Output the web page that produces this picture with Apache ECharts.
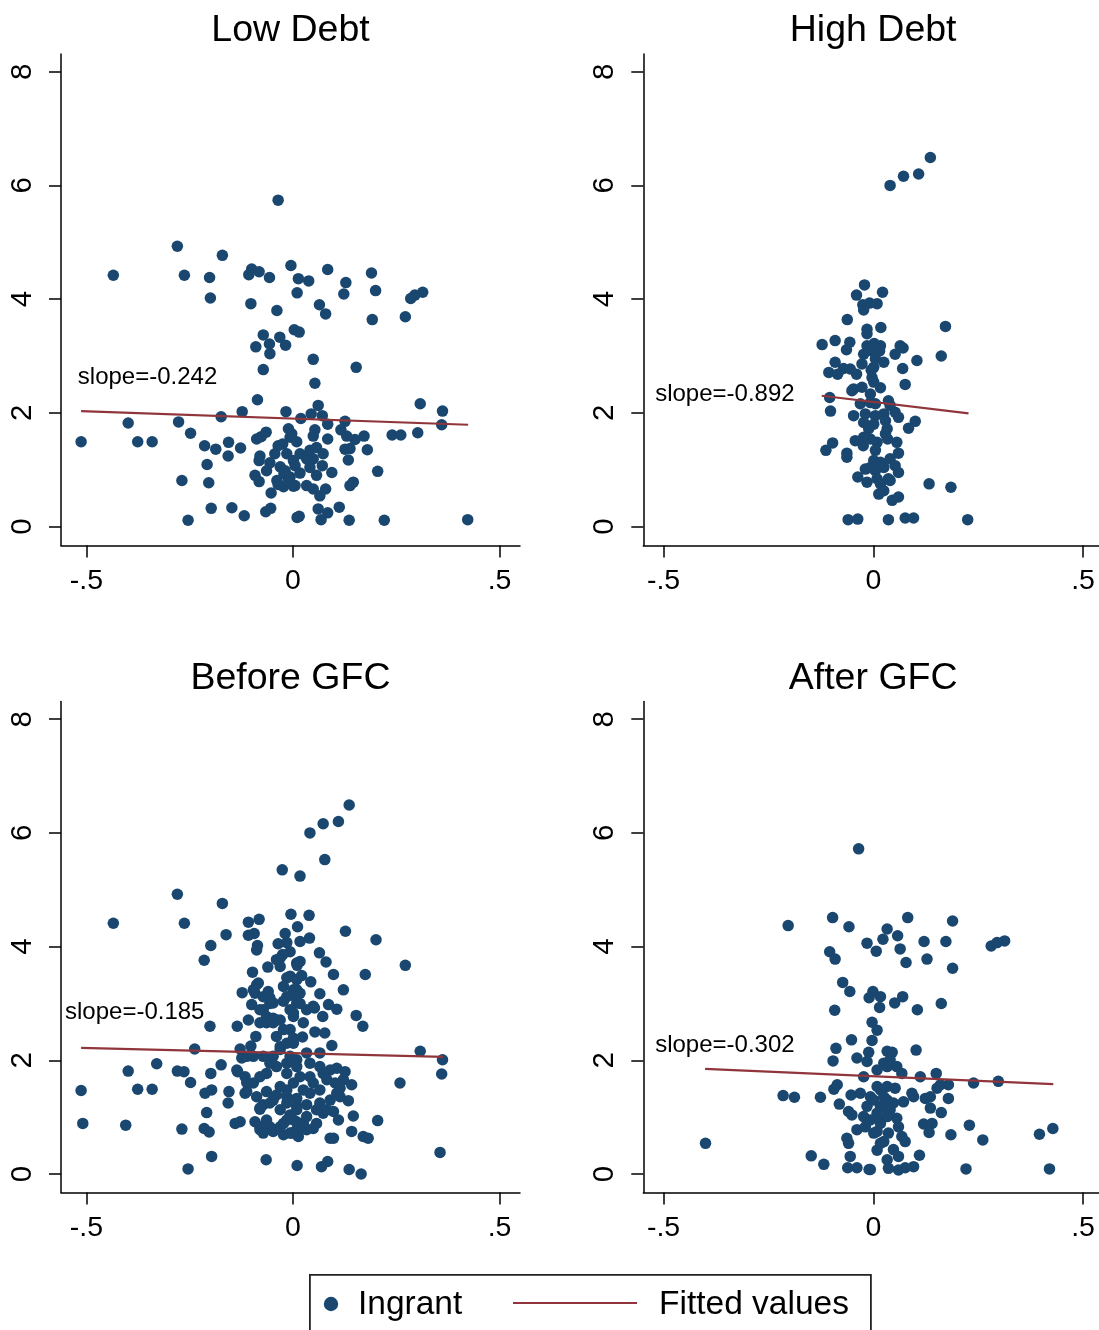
<!DOCTYPE html>
<html>
<head>
<meta charset="utf-8">
<script src="https://cdn.jsdelivr.net/npm/echarts@6/dist/echarts.min.js"></script>
<style>
html,body{margin:0;padding:0;background:#fff;}
#chart{width:1099px;height:1330px;}
</style>
</head>
<body>
<div id="chart"></div>
<script>
// ---------------- DATA ----------------
const panelTitles = ['Low Debt', 'High Debt', 'Before GFC', 'After GFC'];
const slopeLabels = ['slope=-0.242', 'slope=-0.892', 'slope=-0.185', 'slope=-0.302'];
const legendLabels = ['Ingrant', 'Fitted values'];
const xTickValues = [-0.5, 0, 0.5];
const xTickLabels = ['-.5', '0', '.5'];
const yTickValues = [0, 2, 4, 6, 8];
const yTickLabels = ['0', '2', '4', '6', '8'];

const lowDebt = [
[-0.036,5.74],[-0.280,4.93],[-0.171,4.77],[-0.435,4.42],[-0.263,4.42],[-0.202,4.38],[-0.200,4.02],
[-0.100,4.53],[-0.107,4.43],[-0.082,4.48],[-0.057,4.38],[-0.005,4.59],[0.013,4.36],
[-0.102,3.92],[-0.039,3.80],[0.010,4.11],[0.003,3.46],[-0.072,3.37],[-0.032,3.33],[-0.057,3.21],
[-0.018,3.19],[-0.090,3.16],[-0.056,3.04],[-0.072,2.76],[-0.086,2.23],
[-0.123,2.02],[-0.174,1.93],[-0.017,2.02],[-0.399,1.82],[-0.277,1.84],[-0.513,1.49],[-0.376,1.49],
[-0.341,1.49],[-0.248,1.64],[-0.214,1.42],[-0.187,1.36],[-0.156,1.48],[-0.127,1.38],[-0.157,1.24],
[-0.208,1.09],[-0.269,0.81],[-0.204,0.77],[-0.198,0.32],[-0.148,0.33],[-0.118,0.19],[-0.254,0.11],
[-0.066,0.26],[-0.054,0.32],[-0.053,0.59],
[-0.088,1.54],[-0.077,1.58],[-0.065,1.66],[-0.080,1.24],[-0.082,1.16],[-0.056,1.12],[-0.064,0.98],
[-0.092,0.90],[-0.082,0.79],[-0.036,1.42],[-0.025,1.45],[-0.007,1.57],[-0.011,1.72],[-0.044,1.28],
[-0.015,1.28],[-0.031,1.05],[0.001,1.16],[-0.039,0.81],[-0.022,0.93],[0.001,0.71],[-0.036,0.74],
[-0.007,0.87],[0.010,0.16],
[0.084,4.52],[0.190,4.46],[0.038,4.32],[0.128,4.29],[0.123,4.09],[0.200,4.15],[0.285,4.01],
[0.295,4.07],[0.314,4.12],[0.064,3.90],[0.079,3.74],[0.192,3.64],[0.272,3.69],[0.015,3.42],
[0.049,2.94],[0.153,2.80],[0.053,2.52],[0.061,2.13],[0.308,2.16],[0.362,2.03],[0.360,1.79],
[0.019,1.90],[0.044,1.98],[0.071,1.95],[0.084,1.80],[0.126,1.85],[0.116,1.70],[0.240,1.61],
[0.261,1.61],[0.302,1.65],[0.172,1.59],[0.150,1.53],[0.130,1.59],[0.084,1.54],[0.053,1.70],
[0.049,1.59],[-0.003,1.63],[0.009,1.49],
[0.017,1.28],[0.041,1.34],[0.057,1.39],[0.073,1.28],[0.049,1.19],[0.033,1.19],[0.126,1.36],
[0.138,1.37],[0.134,1.17],[0.180,1.35],[0.071,1.07],[0.094,0.95],[0.205,0.97],[-0.019,0.98],
[0.005,1.07],[0.017,0.94],[-0.011,0.84],[0.041,1.04],[0.057,0.90],[-0.023,0.70],[0.005,0.72],
[0.033,0.72],[0.049,0.66],[0.079,0.66],[0.065,0.54],[0.138,0.72],[0.146,0.78],[0.061,0.31],
[0.084,0.24],[0.112,0.34],[0.015,0.18],[0.068,0.12],[0.136,0.11],[0.221,0.11],[0.423,0.12]
];

const highDebt = [
[0.136,6.49],[0.108,6.20],[0.072,6.16],[0.040,6.00],
[-0.021,4.25],[0.022,4.12],[-0.040,4.07],[-0.025,3.90],[-0.009,3.93],[0.009,3.92],[-0.023,3.81],
[-0.062,3.64],[-0.015,3.47],[-0.015,3.39],[0.018,3.50],[0.172,3.52],
[-0.122,3.20],[-0.091,3.27],[-0.056,3.24],[-0.064,3.11],[-0.015,3.18],[0.002,3.22],[0.017,3.18],
[-0.003,3.09],[0.015,3.09],[-0.023,3.03],[0.005,2.95],[0.064,3.18],[0.071,3.14],[0.052,3.03],
[0.162,3.00],[0.104,2.92],[-0.091,2.89],[0.025,2.89],[0.070,2.78],
[-0.106,2.71],[-0.085,2.68],[-0.071,2.78],[-0.055,2.77],[-0.040,2.68],[-0.027,2.86],[-0.005,2.75],
[0.001,2.80],[-0.003,2.62],[0.076,2.50],[-0.047,2.42],[-0.027,2.45],[0.017,2.44],
[-0.051,2.39],[-0.007,2.33],[0.001,2.54],[-0.104,2.27],[-0.102,2.03],[-0.047,1.95],[-0.031,2.16],
[-0.007,2.18],[0.005,2.16],[0.036,2.21],[0.040,2.13],[-0.019,1.98],[0.005,1.95],[0.025,1.98],
[0.052,2.01],[0.060,1.92],[-0.023,1.83],[0.001,1.80],[0.029,1.86],[0.100,1.85],[0.084,1.73],
[-0.011,1.72],[0.033,1.72],[0.029,1.63],[-0.097,1.47],[-0.113,1.34],[-0.043,1.51],[-0.023,1.57],
[-0.024,1.42],[-0.007,1.54],[0.009,1.48],[0.034,1.54],[0.056,1.48],[-0.063,1.29],[-0.063,1.22],
[0.005,1.34],[0.001,1.16],[-0.007,1.04],[0.017,1.13],[0.040,1.19],[0.060,1.29],[-0.019,1.01],
[0.005,0.98],[0.025,1.04],[0.052,1.07],[0.060,0.95],[-0.037,0.87],[-0.015,0.78],[0.009,0.84],
[0.017,0.75],[0.036,0.84],[0.040,0.81],[0.013,0.57],[0.025,0.63],[0.045,0.46],[0.060,0.52],
[0.133,0.75],[0.185,0.69],[-0.060,0.12],[-0.037,0.13],[0.036,0.12],[0.076,0.15],[0.096,0.15],
[0.225,0.12]
];

const beforeGFC = [
[-0.026,5.35],[0.017,5.24],[-0.280,4.92],[-0.171,4.76],[-0.435,4.41],[-0.263,4.41],[-0.005,4.57],
[-0.108,4.43],[-0.082,4.48],[-0.108,4.20],[-0.094,4.23],[-0.162,4.21],[-0.199,4.02],[-0.215,3.76],
[-0.019,4.23],[0.011,4.35],[-0.086,4.02],[-0.088,3.94],[-0.036,4.05],[-0.015,4.07],[-0.007,3.91],
[-0.031,3.80],[-0.061,3.64],[-0.098,3.55],[-0.123,3.19],[-0.088,3.33],[-0.092,3.18],[-0.100,2.98],
[-0.060,3.21],[-0.056,3.10],[-0.072,2.89],[-0.048,2.74],[-0.108,2.71],[-0.201,2.60],[-0.135,2.60],
[-0.090,2.42],[-0.102,2.25],[-0.238,2.20],[-0.128,2.20],[-0.399,1.81],[-0.330,1.94],[-0.280,1.81],
[-0.264,1.80],[-0.174,1.92],[-0.199,1.77],[-0.248,1.61],[-0.513,1.47],[-0.376,1.49],[-0.341,1.49],
[-0.213,1.42],[-0.197,1.48],[-0.155,1.45],[-0.134,1.80],[-0.157,1.25],[-0.209,1.08],[-0.509,0.89],
[-0.405,0.86],[-0.269,0.79],[-0.215,0.80],[-0.203,0.74],[-0.140,0.89],[-0.128,0.92],[-0.197,0.31],
[-0.254,0.09],[-0.065,0.25],[0.010,0.15],
[-0.116,1.71],[-0.096,1.60],[-0.080,1.71],[-0.064,1.77],[-0.040,1.89],[-0.007,2.07],[-0.112,1.45],
[-0.088,1.36],[-0.072,1.22],[-0.080,1.14],[-0.048,1.30],[-0.031,1.54],[0.001,1.60],[-0.015,1.36],
[0.009,1.19],[-0.092,0.92],[-0.080,0.78],[-0.048,0.78],[-0.023,0.89],[0.001,0.95],[-0.007,0.72],
[0.013,0.66],[-0.064,0.95],[-0.031,2.24],[0.001,2.30],[-0.040,2.42],[-0.007,2.54],[-0.064,2.66],
[-0.031,2.71],[0.001,2.83],[-0.048,3.01],[-0.015,3.12],[-0.023,3.30],[0.001,3.24],[-0.007,3.48],
[-0.031,3.65],[0.009,3.71],[-0.072,2.07],[-0.112,2.07],[0.009,1.89],
[0.136,6.49],[0.110,6.20],[0.073,6.16],[0.041,6.00],[0.077,5.53],[0.039,4.55],[0.017,4.09],
[0.040,4.15],[0.127,4.27],[0.201,4.12],[-0.025,3.86],[-0.040,3.77],[0.064,3.89],[0.080,3.73],
[0.017,3.74],[0.010,3.67],[0.272,3.67],[0.175,3.51],[0.098,3.51],[-0.015,3.45],[0.009,3.42],
[0.021,3.49],[0.043,3.38],[0.122,3.24],[0.065,3.17],[0.086,2.98],[0.106,2.90],[-0.003,3.15],
[0.017,3.18],[-0.023,3.04],[0.009,3.01],[0.033,2.89],[0.052,2.92],[0.072,2.77],[0.153,2.79],
[0.169,2.60],[0.053,2.50],[0.077,2.48],[0.023,2.41],[0.001,2.39],[0.094,2.26],[0.308,2.16],
[0.362,2.01],[0.360,1.76],[0.259,1.60],[0.205,0.94],[0.356,0.38],
[0.041,1.95],[0.065,1.89],[0.090,1.83],[0.106,1.86],[0.126,1.80],[0.082,1.66],[0.102,1.60],
[0.142,1.57],[0.114,1.51],[0.065,1.48],[0.041,1.42],[0.090,1.30],[0.134,1.29],[0.033,1.22],
[0.009,1.33],[-0.015,1.48],[-0.040,1.39],[-0.064,1.45],[-0.112,1.61],[-0.116,1.42],[-0.080,1.16],
[-0.056,1.25],[-0.031,1.13],[-0.007,1.04],[0.009,0.92],[0.025,0.89],[0.057,0.89],[0.073,1.07],
[0.098,1.10],[0.110,0.95],[0.146,1.02],[0.142,0.75],[0.170,0.66],[0.182,0.63],[0.090,0.63],
[0.098,0.63],[0.049,0.80],[-0.003,0.72],[-0.023,0.69],[-0.048,0.75],[-0.080,0.83],[-0.015,1.95],
[-0.048,2.07],[-0.096,2.07],[-0.124,2.04],[-0.136,1.83],[0.017,1.71],[-0.015,1.77],
[0.069,0.13],[0.084,0.22],[0.136,0.08],[0.165,0.00],
[-0.056,1.95],[0.009,2.01],[0.033,2.13],[0.065,2.13],[-0.031,2.19],[-0.015,2.30],[-0.023,2.54],
[-0.040,2.71],[-0.007,2.89],[-0.056,3.00],[-0.080,2.89],[0.025,1.48],[0.049,1.60],[0.065,1.25],
[0.106,1.42],[-0.015,1.25],[0.009,1.13],[0.033,1.01],[-0.015,0.95],[0.009,0.78],[0.033,0.78],
[-0.031,0.83],[-0.056,0.83],[-0.072,0.72],[0.041,1.71],[0.073,1.77],[0.122,1.66],[0.114,1.36],
[0.082,1.13],[0.057,1.13],[-0.096,3.24],[-0.072,3.12],[-0.084,3.36],[-0.064,2.77],[-0.048,2.66],
[-0.080,2.66],[0.009,3.24],[0.017,3.00],[0.001,2.77],[0.025,2.66],[0.049,2.95]
];

const afterGFC = [
[-0.035,5.72],[-0.203,4.37],[-0.097,4.51],[-0.058,4.35],[0.033,4.31],[-0.015,4.06],[0.007,3.92],
[0.023,4.13],[-0.104,3.91],[-0.091,3.78],[-0.073,3.37],[-0.056,3.21],[-0.001,3.21],[-0.010,3.10],
[0.017,3.12],[0.015,2.93],[-0.092,2.88],[-0.003,2.67],[0.009,2.53],[-0.003,2.35],[-0.052,2.36],
[-0.089,2.21],[-0.096,1.99],[-0.039,2.04],[-0.011,2.14],[-0.015,1.98],[0.033,2.16],[-0.215,1.38],
[-0.188,1.35],[-0.126,1.35],[-0.086,1.57],[-0.094,1.49],[-0.053,1.39],[-0.081,1.23],[-0.059,1.10],
[-0.051,1.04],[-0.039,0.78],[-0.019,0.83],[-0.063,0.63],[-0.059,0.54],[-0.400,0.54],[-0.148,0.32],
[-0.118,0.17],[-0.055,0.31],[-0.061,0.11],[-0.039,0.11],[-0.010,0.08],
[-0.023,1.71],[0.009,1.83],[0.033,1.89],[-0.031,1.42],[-0.007,1.36],[0.017,1.48],[0.033,1.30],
[-0.015,1.19],[0.009,1.07],[0.033,1.13],[-0.023,1.01],[-0.007,0.95],[0.017,0.89],[0.001,0.72],
[0.025,0.57],[0.009,0.42],[0.033,0.25],
[0.082,4.51],[0.189,4.45],[0.058,4.19],[0.064,3.96],[0.121,4.09],[0.173,4.09],[0.281,4.01],
[0.295,4.07],[0.313,4.10],[0.078,3.72],[0.128,3.78],[0.189,3.62],[0.070,3.12],[0.051,3.01],
[0.105,2.89],[0.162,3.00],[0.102,2.18],[0.045,2.14],[0.025,1.95],[0.040,2.01],[0.056,1.89],
[0.068,1.77],[0.112,1.71],[0.150,1.77],[0.160,1.57],[0.179,1.57],[0.152,1.51],[0.239,1.60],
[0.298,1.63],[0.092,1.42],[0.096,1.36],[0.124,1.33],[0.136,1.36],[0.179,1.33],[0.136,1.16],
[0.162,1.08],[0.009,1.54],[0.033,1.54],[0.052,1.51],[0.001,1.30],[0.025,1.36],[0.048,1.25],
[0.072,1.27],[0.017,1.19],[0.040,1.13],[0.009,1.01],[0.033,1.01],[0.056,0.98],[0.060,0.83],
[0.120,0.88],[0.140,0.89],[0.133,0.73],[0.185,0.69],[0.229,0.86],[0.261,0.60],[0.009,0.75],
[0.036,0.72],[0.068,0.66],[0.076,0.57],[0.017,0.54],[0.048,0.43],[0.060,0.31],[0.110,0.33],
[-0.007,0.08],[0.036,0.10],[0.060,0.07],[0.076,0.11],[0.096,0.13],[0.221,0.09],[0.420,0.09],
[0.396,0.70],[0.428,0.80]
];

const fitLow = [[-0.513, 2.03], [0.424, 1.79]];
const fitHigh = [[-0.123, 2.30], [0.227, 1.99]];
const fitBefore = [[-0.513, 2.22], [0.364, 2.06]];
const fitAfter = [[-0.401, 1.85], [0.429, 1.58]];

// ---------------- LAYOUT / STYLE ----------------
const FONT = '"Liberation Sans", Arial, Helvetica, sans-serif';
const NAVY = '#1a476f';
const MAROON = '#90353b';

const scatterSets = [lowDebt, highDebt, beforeGFC, afterGFC];
const fitSets = [fitLow, fitHigh, fitBefore, fitAfter];

const panels = [
  {left: 61,    top: 54,    width: 459,   height: 491.5, xMin: -0.5617, xMax: 0.5496, yMin: -0.334, yMax: 8.311, annot: [-0.521, 2.63]},
  {left: 643.3, top: 54,    width: 455.7, height: 491.5, xMin: -0.5483, xMax: 0.5380, yMin: -0.334, yMax: 8.311, annot: [-0.520, 2.33]},
  {left: 61,    top: 701.5, width: 459,   height: 491,   xMin: -0.5617, xMax: 0.5496, yMin: -0.325, yMax: 8.311, annot: [-0.552, 2.85]},
  {left: 643.3, top: 701.5, width: 455.7, height: 491,   xMin: -0.5483, xMax: 0.5380, yMin: -0.325, yMax: 8.311, annot: [-0.520, 2.27]}
];

const grids = [], xAxes = [], yAxes = [], titles = [], series = [];
panels.forEach((p, i) => {
  grids.push({left: p.left, top: p.top, width: p.width, height: p.height, containLabel: false});
  xAxes.push({
    type: 'value', gridIndex: i, min: p.xMin, max: p.xMax,
    axisLine: {show: true, onZero: false, lineStyle: {color: '#000', width: 1.5}},
    axisTick: {show: true, length: 12, customValues: xTickValues, lineStyle: {color: '#000', width: 1.5}},
    axisLabel: {
      customValues: xTickValues, fontSize: 28.5, color: '#000', fontFamily: FONT, margin: 21,
      formatter: v => { const k = xTickValues.findIndex(t => Math.abs(t - v) < 1e-9); return k >= 0 ? xTickLabels[k] : ''; }
    },
    splitLine: {show: false}
  });
  yAxes.push({
    type: 'value', gridIndex: i, min: p.yMin, max: p.yMax,
    axisLine: {show: true, onZero: false, lineStyle: {color: '#000', width: 1.5}},
    axisTick: {show: true, length: 12, customValues: yTickValues, lineStyle: {color: '#000', width: 1.5}},
    axisLabel: {
      customValues: yTickValues, rotate: 90, fontSize: 29.5, color: '#000', fontFamily: FONT, margin: 23,
      formatter: v => { const k = yTickValues.findIndex(t => Math.abs(t - v) < 1e-9); return k >= 0 ? yTickLabels[k] : ''; }
    },
    splitLine: {show: false}
  });
  titles.push({
    text: panelTitles[i], left: p.left + p.width / 2 + (i % 2 === 1 ? 2 : 0), top: p.top - 42, textAlign: 'center', padding: 0,
    textStyle: {fontSize: 37.5, fontWeight: 'normal', color: '#000', fontFamily: FONT}
  });
  series.push({
    name: legendLabels[0], type: 'scatter', xAxisIndex: i, yAxisIndex: i,
    data: scatterSets[i], symbol: 'circle', symbolSize: 11.5,
    itemStyle: {color: NAVY, opacity: 1}, z: 2, silent: true
  });
  series.push({
    name: legendLabels[1], type: 'line', xAxisIndex: i, yAxisIndex: i,
    data: fitSets[i], symbol: 'none', lineStyle: {color: MAROON, width: 2.2}, z: 3, silent: true
  });
});

// legend drawn as graphic (box cut by bottom edge like reference)
const graphic = [
  {type: 'rect', left: 309, top: 1274, shape: {width: 561, height: 80},
   style: {fill: '#fff', stroke: '#222', lineWidth: 1.8}, z: 10},
  {type: 'circle', shape: {cx: 331, cy: 1304, r: 7.2}, style: {fill: NAVY}, z: 11},
  {type: 'text', x: 358, y: 1305, style: {text: legendLabels[0], fontSize: 33.5, fill: '#000', fontFamily: FONT, verticalAlign: 'middle'}, z: 11},
  {type: 'line', shape: {x1: 513, y1: 1303, x2: 637, y2: 1303}, style: {stroke: MAROON, lineWidth: 2}, z: 11},
  {type: 'text', x: 659, y: 1305, style: {text: legendLabels[1], fontSize: 33.5, fill: '#000', fontFamily: FONT, verticalAlign: 'middle'}, z: 11}
];

const chart = echarts.init(document.getElementById('chart'), null, {renderer: 'canvas'});
chart.setOption({
  backgroundColor: '#fff',
  animation: false,
  textStyle: {fontFamily: FONT},
  title: titles,
  grid: grids,
  xAxis: xAxes,
  yAxis: yAxes,
  series: series,
  graphic: graphic
});

// slope annotations placed through each panel's own scales
const annotGraphics = panels.map((p, i) => {
  const pt = chart.convertToPixel({gridIndex: i}, p.annot);
  return {type: 'text', x: pt[0], y: pt[1],
    style: {text: slopeLabels[i], fontSize: 24, fill: '#000', fontFamily: FONT, verticalAlign: 'middle', align: 'left'}, z: 12};
});
chart.setOption({graphic: graphic.concat(annotGraphics)});
</script>
</body>
</html>
